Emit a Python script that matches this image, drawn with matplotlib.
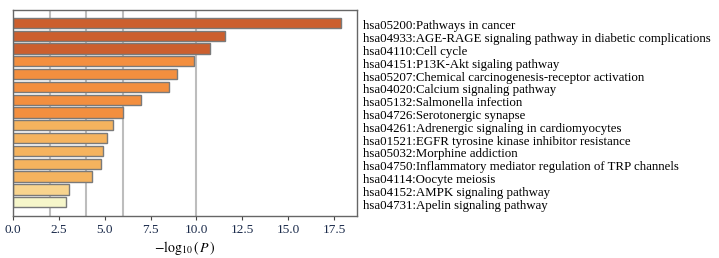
import matplotlib
matplotlib.use("Agg")
import matplotlib.pyplot as plt
import matplotlib.transforms as mtransforms

terms = ["hsa05200:Pathways in cancer",
         "hsa04933:AGE-RAGE signaling pathway in diabetic complications",
         "hsa04110:Cell cycle",
         "hsa04151:P13K-Akt sigaling pathway",
         "hsa05207:Chemical carcinogenesis-receptor activation",
         "hsa04020:Calcium signaling pathway",
         "hsa05132:Salmonella infection",
         "hsa04726:Serotonergic synapse",
         "hsa04261:Adrenergic signaling in cardiomyocytes",
         "hsa01521:EGFR tyrosine kinase inhibitor resistance",
         "hsa05032:Morphine addiction",
         "hsa04750:Inflammatory mediator regulation of TRP channels",
         "hsa04114:Oocyte meiosis",
         "hsa04152:AMPK signaling pathway",
         "hsa04731:Apelin signaling pathway"]
values = [17.86, 11.57, 10.75, 9.88, 8.95, 8.52, 6.99, 6.01, 5.47, 5.14, 4.90, 4.80, 4.31, 3.05, 2.89]
colors = ["#CC5F2E"] * 3 + ["#F38F3F"] * 5 + ["#F5B35E"] * 5 + ["#F8D48E", "#F6F6CA"]
grid_x = [2, 4, 6, 10]
xticks = [0.0, 2.5, 5.0, 7.5, 10.0, 12.5, 15.0, 17.5]

plt.rcParams['font.family'] = ['Liberation Serif', 'DejaVu Serif']
plt.rcParams['mathtext.fontset'] = 'stix'

fig = plt.figure(figsize=(7.19, 2.58), dpi=100)
ax = fig.add_axes([0.0181, 0.163, 0.4784, 0.799])

for g in grid_x:
    ax.axvline(g, color="#bdbdbd", lw=1.5, zorder=0)

y = list(range(len(values)))
ax.barh(y, values, height=0.8, color=colors, edgecolor="#7a7a7a", linewidth=1.0, zorder=2)
ax.set_ylim(len(values) - 1 + 1.07, -1.02)
ax.set_xlim(0, 18.75)
ax.set_xticks(xticks)
ax.set_xticklabels([f"{t:.1f}" for t in xticks], fontsize=9.5, color="#1a2a4a")
ax.set_yticks(y)
ax.set_yticklabels(terms, fontsize=9.3)
ax.yaxis.tick_right()
ax.tick_params(axis='y', length=0, pad=4)
ax.tick_params(axis='x', length=3, width=0.8, color="#444444", pad=3)
offset = mtransforms.ScaledTranslation(0, -2 / 100, fig.dpi_scale_trans)
for lbl in ax.get_yticklabels():
    lbl.set_transform(lbl.get_transform() + offset)
for s in ax.spines.values():
    s.set_color("#666666")
    s.set_linewidth(1.0)
ax.set_xlabel(r"$-\mathrm{log}_{10}\,(\,P\,)$", fontsize=10, labelpad=2)

fig.savefig("out.png", dpi=100)
